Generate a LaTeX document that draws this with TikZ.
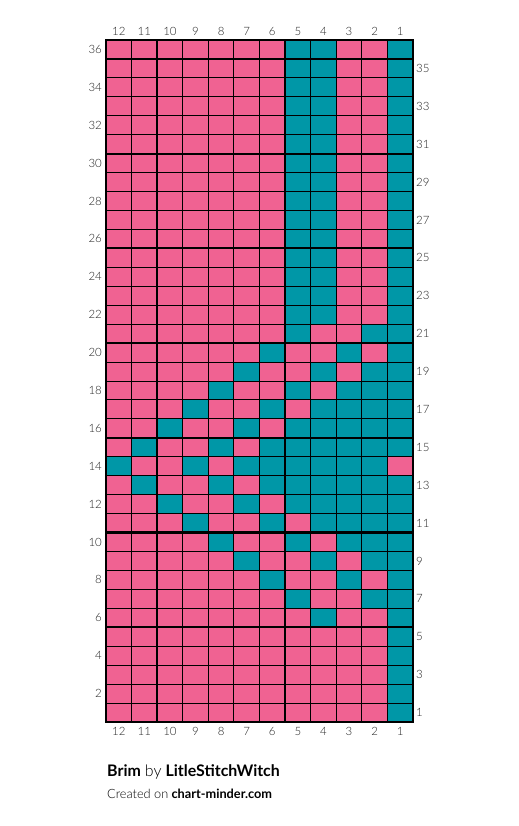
\documentclass[tikz,border=0pt]{standalone}
\usepackage{fontspec}
\setmainfont{Lato}
\newfontfamily\lightfont{Lato Light}
\definecolor{pinkc}{HTML}{F06292}
\definecolor{tealc}{HTML}{0097A7}
\definecolor{labelc}{HTML}{222222}
\begin{document}
\begin{tikzpicture}[x=1bp,y=-1bp,
  thinline/.style={line width=0.9bp,black},
  thickline/.style={line width=2.2bp,black},
  numlabel/.style={font=\lightfont\fontsize{11.5}{13}\selectfont,text=labelc,inner sep=0pt}]
\useasboundingbox[fill=white] (0,0) rectangle (519,826);
\def\gx{106}\def\gy{40}\def\cw{25.5833}\def\rh{18.9444}
% pink background
\fill[pinkc] (\gx,\gy) rectangle (413,722);
% teal cells
\foreach \r/\cols in {36/{5,4,1},35/{5,4,1},34/{5,4,1},33/{5,4,1},32/{5,4,1},31/{5,4,1},30/{5,4,1},29/{5,4,1},28/{5,4,1},27/{5,4,1},26/{5,4,1},25/{5,4,1},24/{5,4,1},23/{5,4,1},22/{5,4,1},
  21/{5,2,1},20/{6,3,1},19/{7,4,2,1},18/{8,5,3,2,1},17/{9,6,4,3,2,1},16/{10,7,5,4,3,2,1},15/{11,8,6,5,4,3,2,1},
  14/{12,9,7,6,5,4,3,2},
  13/{11,8,6,5,4,3,2,1},12/{10,7,5,4,3,2,1},11/{9,6,4,3,2,1},10/{8,5,3,2,1},9/{7,4,2,1},8/{6,3,1},7/{5,2,1},
  6/{4,1},5/{1},4/{1},3/{1},2/{1},1/{1}}{
  \foreach \c in \cols {
    \fill[tealc] ({\gx+(12-\c)*\cw},{\gy+(36-\r)*\rh}) rectangle ++(\cw,\rh);
  }
}
% thin grid lines
\foreach \i in {1,...,11} \draw[thinline] ({\gx+\i*\cw},\gy) -- ({\gx+\i*\cw},722);
\foreach \j in {1,...,35} \draw[thinline] (\gx,{\gy+\j*\rh}) -- (413,{\gy+\j*\rh});
% thick lines
\foreach \i in {2,7} \draw[thickline] ({\gx+\i*\cw},\gy) -- ({\gx+\i*\cw},722);
\foreach \j in {1,6,11,16,21,26,31} \draw[thickline] (\gx,{\gy+\j*\rh}) -- (413,{\gy+\j*\rh});
\draw[thickline] (\gx,\gy) rectangle (413,722);
% column labels
\foreach \c in {1,...,12} {
  \node[numlabel] (top\c) at ({\gx+(12-\c)*\cw+\cw/2},31) {\c};
  \node[numlabel] (bot\c) at ({\gx+(12-\c)*\cw+\cw/2},731.5) {\c};
}
% row labels
\foreach \r in {2,4,...,36} \node[numlabel,anchor=east] (rl\r) at (102,{\gy+(36-\r)*\rh+\rh/2}) {\r};
\foreach \r in {1,3,...,35} \node[numlabel,anchor=west] (rr\r) at (416,{\gy+(36-\r)*\rh+\rh/2}) {\r};
% title
\node[anchor=base west,inner sep=0pt,font=\fontsize{16}{18}\selectfont] (title) at (107,776) {\textbf{Brim} {\lightfont by} \textbf{LitleStitchWitch}};
\node[anchor=base west,inner sep=0pt,font=\fontsize{12.8}{15}\selectfont] (credit) at (107,798) {{\lightfont Created on} \textbf{chart-minder.com}};
\end{tikzpicture}
\end{document}
